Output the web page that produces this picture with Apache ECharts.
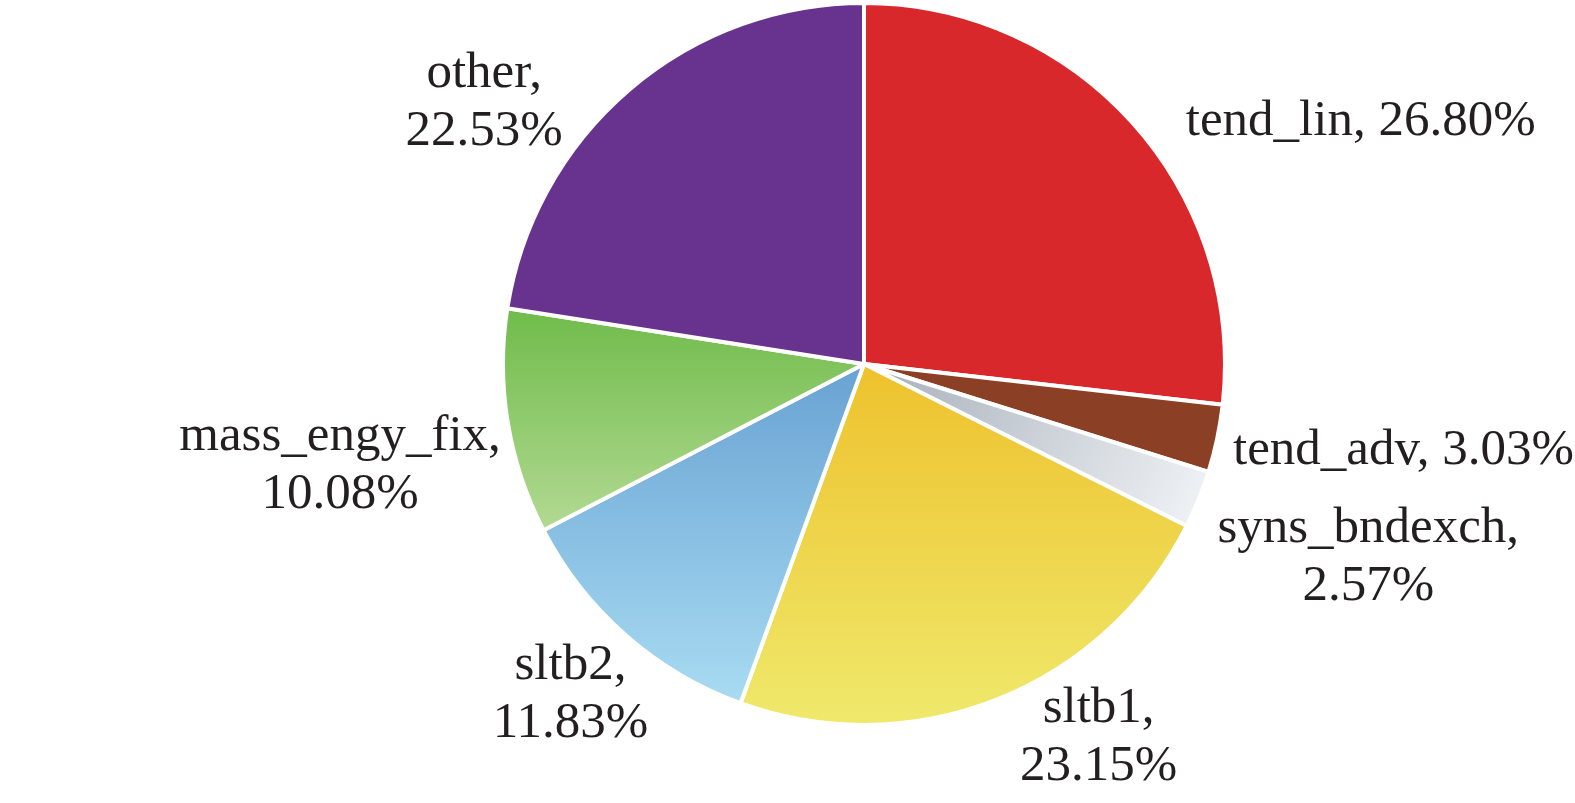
<!DOCTYPE html>
<html lang="en">
<head>
    <meta charset="UTF-8">
    <title>Pie</title>
    <script src="https://cdn.jsdelivr.net/npm/echarts@6/dist/echarts.min.js"></script>
</head>
<body style="margin:0; background:#fff;">
    <div id="main" style="width:1575px;height:803px;"></div>
    <script>
        // 数据
        var names = ['tend_lin', 'tend_adv', 'syns_bndexch', 'sltb1', 'sltb2', 'mass_engy_fix', 'other'];
        var values = [26.80, 3.03, 2.57, 23.15, 11.83, 10.08, 22.53];
        // 标签是否换行
        var wrapLabel = [false, false, true, true, true, true, true];
        // 标签微调偏移 (相对默认位置)
        var labelShift = [[30, 5], [-4, 10], [11, 28], [4, 29], [44, 52], [18, 42], [-45, 20]];

        function grad(c0, c1) {
            return new echarts.graphic.LinearGradient(0, 0, 0, 1, [
                {offset: 0, color: c0}, {offset: 1, color: c1}
            ]);
        }
        var colors = [
            '#d9282b',
            '#8b3f24',
            new echarts.graphic.LinearGradient(0, 0, 1, 1, [
                {offset: 0, color: '#a6aeb8'}, {offset: 1, color: '#f2f5f8'}
            ]),
            grad('#eec12c', '#efe96c'),
            grad('#68a2d3', '#a9dcf2'),
            grad('#6fbb4a', '#b3da93'),
            '#67338f'
        ];

        var data = names.map(function (n, i) {
            return {name: n, value: values[i], itemStyle: {color: colors[i]}};
        });

        var chart = echarts.init(document.getElementById('main'));
        chart.setOption({
            animation: false,
            series: [{
                type: 'pie',
                center: [864, 364],
                radius: 361,
                startAngle: 90,
                data: data,
                itemStyle: {borderColor: '#fff', borderWidth: 4},
                label: {
                    show: true,
                    position: 'outside',
                    fontFamily: 'Liberation Serif',
                    fontSize: 51,
                    lineHeight: 58,
                    color: '#231f20',
                    overflow: 'none',
                    edgeDistance: 0,
                    formatter: function (p) {
                        var v = values[p.dataIndex].toFixed(2) + '%';
                        return p.name + ',' + (wrapLabel[p.dataIndex] ? '\n' : ' ') + v;
                    }
                },
                labelLine: {show: false, length: 10, length2: 10},
                labelLayout: function (params) {
                    var r = params.labelRect;
                    var s = labelShift[params.dataIndex];
                    return {
                        x: r.x + r.width / 2 + s[0],
                        y: r.y + r.height / 2 + s[1],
                        align: 'center',
                        verticalAlign: 'middle'
                    };
                },
                emphasis: {disabled: true}
            }]
        });
    </script>
</body>
</html>
